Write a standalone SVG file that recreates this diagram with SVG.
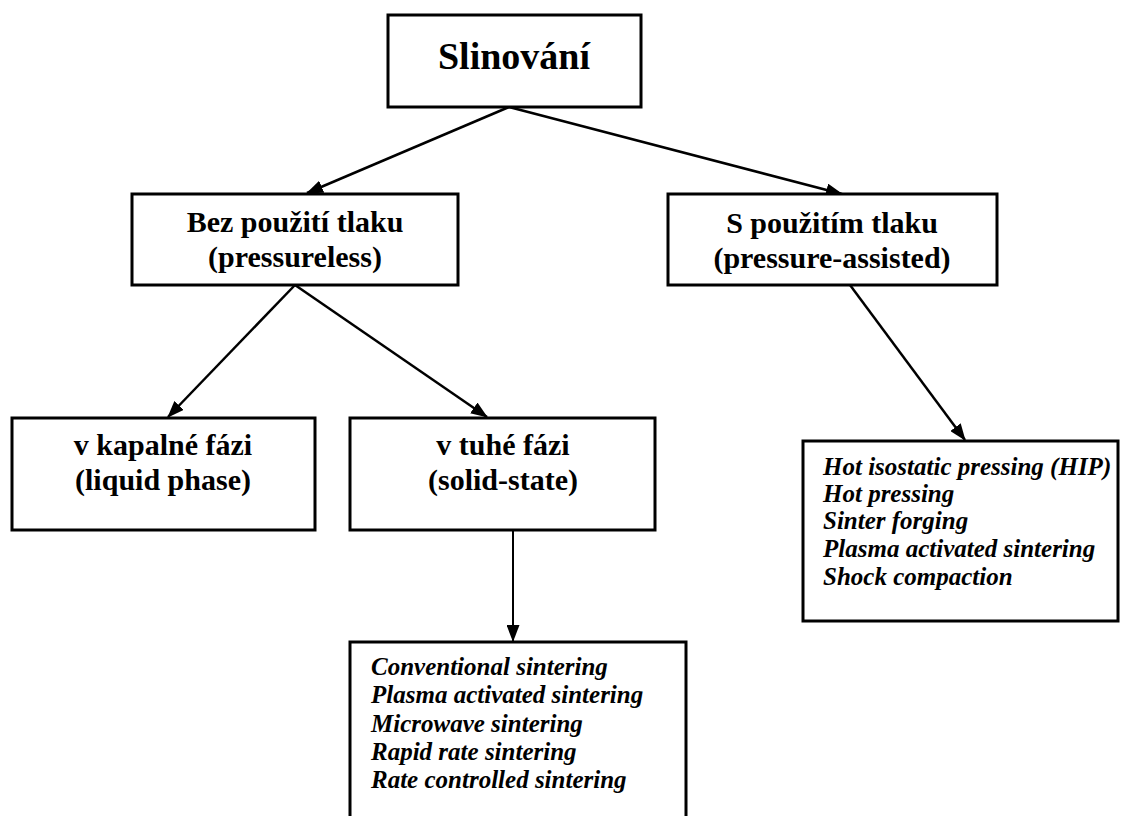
<svg xmlns="http://www.w3.org/2000/svg" width="1123" height="816" viewBox="0 0 1123 816">
<style>
.box{fill:#fff;stroke:#000;stroke-width:3}
.t{font-family:"Liberation Serif","Times New Roman",serif;font-weight:bold;fill:#000}
.h{font-size:30px;text-anchor:middle}
.l{font-size:25px;font-style:italic}
.c{stroke:#000;stroke-width:2.5;fill:none;marker-end:url(#ah)}
</style>
<defs>
<marker id="ah" markerUnits="userSpaceOnUse" markerWidth="17" markerHeight="13" refX="16" refY="6.5" orient="auto">
<path d="M0,0 L17,6.5 L0,13 z" fill="#000"/>
</marker>
</defs>
<rect width="1123" height="816" fill="#fff"/>
<g id="connectors">
<line class="c" x1="509" y1="107" x2="307" y2="193"/>
<line class="c" x1="509" y1="107" x2="842" y2="194"/>
<line class="c" x1="295" y1="285" x2="168" y2="417"/>
<line class="c" x1="295" y1="285" x2="487" y2="417"/>
<line class="c" x1="850" y1="285" x2="965" y2="440"/>
<line class="c" x1="513" y1="530" x2="513" y2="641" style="stroke-width:2"/>
</g>
<g id="root">
<rect class="box" x="388" y="15" width="253" height="92"/>
<text class="t" x="514" y="69" font-size="38" text-anchor="middle">Slinování</text>
</g>
<g id="pressureless">
<rect class="box" x="132" y="194" width="326" height="91"/>
<text class="t h" x="295" y="232">Bez použití tlaku</text>
<text class="t h" x="295" y="267">(pressureless)</text>
</g>
<g id="pressure-assisted">
<rect class="box" x="668" y="194" width="329" height="91"/>
<text class="t h" x="832" y="233">S použitím tlaku</text>
<text class="t h" x="832" y="268">(pressure-assisted)</text>
</g>
<g id="liquid">
<rect class="box" x="12" y="418" width="303" height="112"/>
<text class="t h" x="163" y="455">v kapalné fázi</text>
<text class="t h" x="163" y="490">(liquid phase)</text>
</g>
<g id="solid">
<rect class="box" x="350" y="418" width="305" height="112"/>
<text class="t h" x="503" y="455">v tuhé fázi</text>
<text class="t h" x="503" y="490">(solid-state)</text>
</g>
<g id="solid-methods">
<rect class="box" x="350" y="642" width="336" height="200"/>
<text class="t l" x="371" y="675">Conventional sintering</text>
<text class="t l" x="371" y="703">Plasma activated sintering</text>
<text class="t l" x="371" y="732">Microwave sintering</text>
<text class="t l" x="371" y="760">Rapid rate sintering</text>
<text class="t l" x="371" y="788">Rate controlled sintering</text>
</g>
<g id="pressure-methods">
<rect class="box" x="803" y="441" width="315" height="180"/>
<text class="t l" x="823" y="475">Hot isostatic pressing (HIP)</text>
<text class="t l" x="823" y="502">Hot pressing</text>
<text class="t l" x="823" y="529">Sinter forging</text>
<text class="t l" x="823" y="557">Plasma activated sintering</text>
<text class="t l" x="823" y="585">Shock compaction</text>
</g>
</svg>
